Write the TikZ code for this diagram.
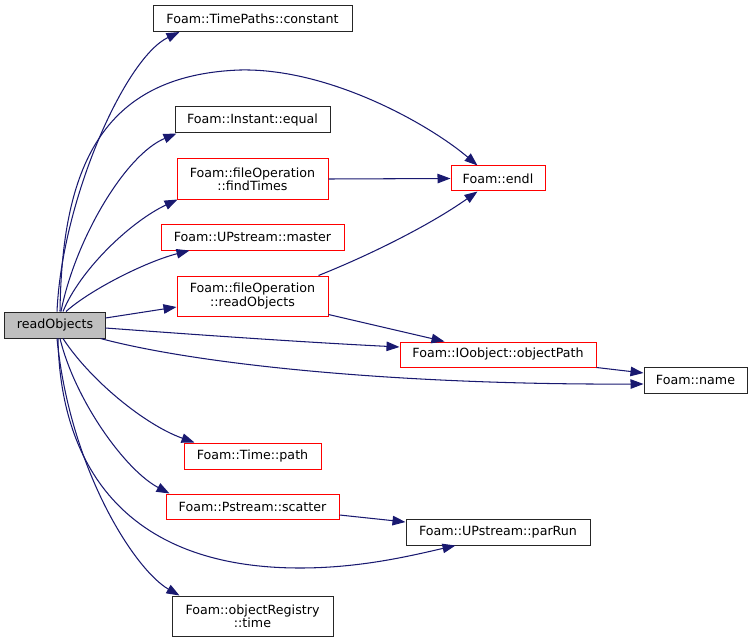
\documentclass[tikz,border=0pt]{standalone}
\usepackage{fontspec}
\newfontfamily\dejavu{DejaVu Sans}
\usetikzlibrary{arrows.meta,calc}
\definecolor{edgeblue}{HTML}{191970}
\definecolor{rofill}{HTML}{BFBFBF}
\tikzset{
  box/.style={draw, rectangle, inner sep=0pt, align=center, line width=1bp,
    font=\dejavu\fontsize{12.7}{13.3}\selectfont},
  redbox/.style={box, draw=red},
  blackbox/.style={box, draw=black!85},
  rootbox/.style={box, draw=black!85, fill=rofill},
  calledge/.style={draw=edgeblue, line width=1.05bp, -{Triangle[length=13bp,width=9.5bp]}}
}
\begin{document}
\begin{tikzpicture}[x=1bp,y=-1bp]
\useasboundingbox (0,0) rectangle (752,642);
% nodes
\node[rootbox, minimum width=100bp, minimum height=26bp] (ro) at (55,325) {readObjects};
\node[blackbox, minimum width=199bp, minimum height=26bp] (constant) at (252.5,18.5) {Foam::TimePaths::constant};
\node[redbox, minimum width=94bp, minimum height=25bp] (endl) at (498,178.5) {Foam::endl};
\node[blackbox, minimum width=155bp, minimum height=26bp] (equal) at (252.5,120) {Foam::Instant::equal};
\node[redbox, minimum width=151bp, minimum height=40bp] (findtimes) at (252.5,179) {Foam::fileOperation\\::findTimes};
\node[redbox, minimum width=183bp, minimum height=26bp] (master) at (252.5,237) {Foam::UPstream::master};
\node[redbox, minimum width=151bp, minimum height=40bp] (foread) at (252.5,296) {Foam::fileOperation\\::readObjects};
\node[redbox, minimum width=196bp, minimum height=25bp] (objpath) at (498,354.5) {Foam::IOobject::objectPath};
\node[blackbox, minimum width=103bp, minimum height=26bp] (name) at (695.5,380) {Foam::name};
\node[redbox, minimum width=137bp, minimum height=26bp] (path) at (252.5,456) {Foam::Time::path};
\node[redbox, minimum width=173bp, minimum height=25bp] (scatter) at (252.5,506.5) {Foam::Pstream::scatter};
\node[blackbox, minimum width=184bp, minimum height=26bp] (parrun) at (498,532) {Foam::UPstream::parRun};
\node[blackbox, minimum width=161bp, minimum height=40bp] (objreg) at (252.5,616) {Foam::objectRegistry\\::time};
% edges from readObjects (upwards)
\draw[calledge] ($(ro.north)+(2,0)$) .. controls (62,200) and (125,58) .. ($(constant.south west)+(27,0)$);
\draw[calledge] ($(ro.north)+(5,0)$) .. controls (62,170) and (100,75) .. (240,70)
  .. controls (330,68) and (430,125) .. ($(endl.north west)+(27,0)$);
\draw[calledge] ($(ro.north)+(6,0)$) .. controls (75,240) and (125,155) .. ($(equal.south west)+(2,0)$);
\draw[calledge] ($(ro.north)+(8,0)$) .. controls (80,270) and (130,222) .. ($(findtimes.south west)+(1,0)$);
\draw[calledge] ($(ro.north)+(11,0)$) .. controls (90,290) and (145,262) .. ($(master.south west)+(29,0)$);
% edges from readObjects (sideways)
\draw[calledge] ($(ro.east)+(0,-7)$) -- ($(foread.west)+(0,11)$);
\draw[calledge] ($(ro.east)+(0,3)$) .. controls (200,335) and (300,342) .. ($(objpath.west)+(0,-7.5)$);
\draw[calledge] ($(ro.south east)+(-5,0)$) .. controls (200,365) and (400,385) .. ($(name.west)+(0,4)$);
% edges from readObjects (downwards)
\draw[calledge] ($(ro.south)+(8,0)$) .. controls (90,380) and (145,425) .. ($(path.north west)+(11,0)$);
\draw[calledge] ($(ro.south)+(5,0)$) .. controls (75,400) and (125,470) .. ($(scatter.north west)+(4,0)$);
\draw[calledge] ($(ro.south)+(3,0)$) .. controls (60,460) and (120,568) .. (300,568)
  .. controls (360,568) and (410,556) .. ($(parrun.south west)+(50,0)$);
\draw[calledge] ($(ro.south)+(2,0)$) .. controls (70,470) and (135,570) .. ($(objreg.north west)+(8,0)$);
% other edges
\draw[calledge] (findtimes.east) -- (endl.west);
\draw[calledge] ($(foread.north east)+(-10,0)$) .. controls (370,255) and (430,225) .. ($(endl.south west)+(27,0)$);
\draw[calledge] ($(foread.south east)+(0,-2)$) -- ($(objpath.north west)+(45,0)$);
\draw[calledge] (objpath.south east) -- ($(name.west)+(0,-7)$);
\draw[calledge] ($(scatter.east)+(0,8.5)$) -- ($(parrun.west)+(0,-10)$);
\end{tikzpicture}
\end{document}
